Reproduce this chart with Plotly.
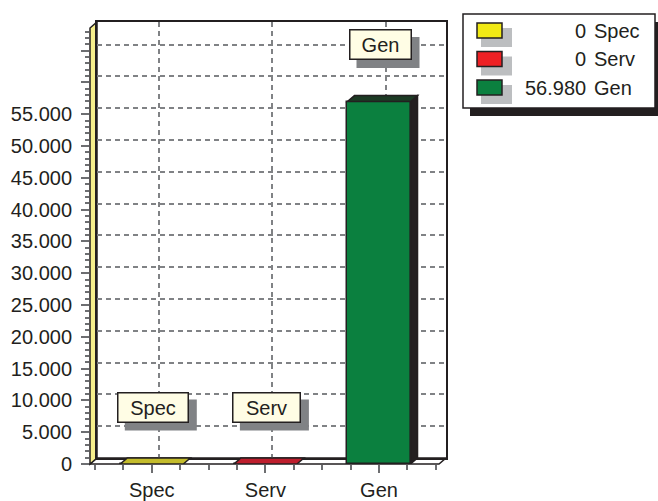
import plotly.graph_objects as go

# ---------------- data ----------------
categories = ["Spec", "Serv", "Gen"]
values = [0, 0, 56980]
y_tick_values = [0, 5000, 10000, 15000, 20000, 25000, 30000, 35000,
                 40000, 45000, 50000, 55000, 60000, 65000]
y_tick_labels = ["0", "5.000", "10.000", "15.000", "20.000", "25.000", "30.000",
                 "35.000", "40.000", "45.000", "50.000", "55.000", "", ""]

# ---------------- styles ----------------
front_colors = ["#F2EA14", "#EE2024", "#0B803F"]
top_colors = ["#C4BC2C", "#BE1E2D", "#1C3A24"]
side_colors = ["#8A8520", "#7A1418", "#231F20"]
label_box_widths = [69, 66, 60]
INK = "#231F20"
TICK = "#6D6E71"
GRID = "#808285"
FONT = "Liberation Sans, Arial, sans-serif"

W, H = 658, 501
L, R, T, B = 90, 446, 22, 464      # pixel box holding front plane + depth
DX, DY = 7, 6                       # depth offset in pixels
FRONT_W, FRONT_H = R - L - DX, B - T - DY
CAT_PX = 113.6
x_lo = -0.5 - 5 / CAT_PX
x_hi = x_lo + FRONT_W / CAT_PX
Y_PER_PX = 5000 / 31.8
y_hi = FRONT_H * Y_PER_PX
dx_d = DX / CAT_PX
dy_d = DY * Y_PER_PX
BAR_W = 0.555
LABEL_H = 28
LABEL_UP = 57


def fx(px):
    return (px - L) / (R - L)


def fy(py):
    return (B - py) / (B - T)


fig = go.Figure()

# invisible trace so the back-wall subplot (grid + frame) is drawn
fig.add_trace(go.Scatter(x=[0], y=[0], xaxis="x", yaxis="y", mode="markers",
                         marker=dict(opacity=0), hoverinfo="skip", showlegend=False))

fig.add_trace(go.Bar(
    x=list(range(len(categories))), y=values,
    xaxis="x2", yaxis="y2", width=BAR_W,
    marker=dict(color=front_colors, line=dict(color=INK, width=1.5)),
    hoverinfo="skip", showlegend=False,
))

shapes = []
# floor and left wall (beneath everything)
shapes.append(dict(
    type="path", xref="paper", yref="paper", layer="below",
    path=f"M {fx(L)},{fy(B)} L {fx(L+FRONT_W)},{fy(B)} L {fx(R)},{fy(B-DY)} L {fx(L+DX)},{fy(B-DY)} Z",
    fillcolor="white", line=dict(color=INK, width=1.5)))
shapes.append(dict(
    type="path", xref="paper", yref="paper", layer="below",
    path=f"M {fx(L)},{fy(B)} L {fx(L)},{fy(T+DY)} L {fx(L+DX)},{fy(T)} L {fx(L+DX)},{fy(B-DY)} Z",
    fillcolor="#F6EF8C", line=dict(color=INK, width=1.5)))

# 3D tops and sides of bars
for i, v in enumerate(values):
    x0, x1 = i - BAR_W / 2, i + BAR_W / 2
    if v > 0:
        shapes.append(dict(
            type="path", xref="x2", yref="y2", layer="above",
            path=f"M {x1},0 L {x1+dx_d},{dy_d} L {x1+dx_d},{v+dy_d} L {x1},{v} Z",
            fillcolor=side_colors[i], line=dict(color=INK, width=1.5)))
    shapes.append(dict(
        type="path", xref="x2", yref="y2", layer="above",
        path=f"M {x0},{v} L {x1},{v} L {x1+dx_d},{v+dy_d} L {x0+dx_d},{v+dy_d} Z",
        fillcolor=top_colors[i], line=dict(color=INK, width=1.5)))

# label shadows (pixel-sized rects anchored on each bar top)
for i, v in enumerate(values):
    half_w = (label_box_widths[i] + 3) / 2
    half_h = (LABEL_H + 3) / 2
    shapes.append(dict(
        type="rect", xref="x2", yref="y2", layer="above",
        xsizemode="pixel", ysizemode="pixel", xanchor=i, yanchor=v,
        x0=1 - half_w + 8, x1=1 + half_w + 8,
        y0=LABEL_UP - half_h - 8, y1=LABEL_UP + half_h - 8,
        fillcolor=GRID, line=dict(width=0)))

# legend box
LG_X0, LG_Y0, LG_X1, LG_Y1 = 463, 14, 655, 108
shapes.append(dict(type="rect", xref="paper", yref="paper", layer="above",
                   x0=fx(LG_X0 + 7), x1=fx(LG_X1 + 7), y0=fy(LG_Y0 + 8), y1=fy(LG_Y1 + 8),
                   fillcolor=INK, line=dict(width=0)))
shapes.append(dict(type="rect", xref="paper", yref="paper", layer="above",
                   x0=fx(LG_X0), x1=fx(LG_X1), y0=fy(LG_Y0), y1=fy(LG_Y1),
                   fillcolor="white", line=dict(color=INK, width=1.5)))

annotations = []
row_y0 = [23, 51.5, 80]
for i, name in enumerate(categories):
    sy0 = row_y0[i]
    shapes.append(dict(type="rect", xref="paper", yref="paper", layer="above",
                       x0=fx(481), x1=fx(512), y0=fy(sy0 + 5), y1=fy(sy0 + 24),
                       fillcolor="#BCBEC0", line=dict(width=0)))
    shapes.append(dict(type="rect", xref="paper", yref="paper", layer="above",
                       x0=fx(477), x1=fx(502), y0=fy(sy0), y1=fy(sy0 + 15),
                       fillcolor=front_colors[i], line=dict(color=INK, width=1.5)))
    val_txt = f"{values[i]:,}".replace(",", ".")
    annotations.append(dict(xref="paper", yref="paper", x=fx(588), y=fy(sy0 + 7.5),
                            text=val_txt, showarrow=False, xanchor="right", yanchor="middle",
                            font=dict(family=FONT, size=20, color=INK)))
    annotations.append(dict(xref="paper", yref="paper", x=fx(592), y=fy(sy0 + 7.5),
                            text=name, showarrow=False, xanchor="left", yanchor="middle",
                            font=dict(family=FONT, size=20, color=INK)))

# data labels
for i, (name, v) in enumerate(zip(categories, values)):
    annotations.append(dict(xref="x2", yref="y2", x=i, y=v, text=name, showarrow=False,
                            xanchor="center", yanchor="middle",
                            width=label_box_widths[i], height=LABEL_H,
                            borderwidth=1.5, borderpad=0, xshift=1, yshift=LABEL_UP,
                            bgcolor="#FFFDE5", bordercolor=INK,
                            font=dict(family=FONT, size=20, color=INK)))

grid_common = dict(showgrid=True, griddash="5px,4px", gridcolor=GRID, gridwidth=1.5,
                   showline=True, mirror=True, linecolor=INK, linewidth=1.5,
                   zeroline=False, showticklabels=False, ticks="", automargin=False)

fig.update_layout(
    width=W, height=H, autosize=False,
    margin=dict(l=L, r=W - R, t=T, b=H - B, pad=0, autoexpand=False),
    paper_bgcolor="white", plot_bgcolor="rgba(0,0,0,0)",
    showlegend=False, bargap=0,
    font=dict(family=FONT, size=20, color=INK),
    xaxis=dict(domain=[fx(L + DX), 1], range=[x_lo, x_hi], anchor="y",
               tickmode="array", tickvals=list(range(len(categories))), **grid_common),
    yaxis=dict(domain=[fy(B - DY), 1], range=[0, y_hi], anchor="x",
               tickmode="linear", tick0=0, dtick=5000, **grid_common),
    xaxis2=dict(domain=[0, fx(L + FRONT_W)], range=[x_lo, x_hi], anchor="y2",
                tickmode="array", tickvals=list(range(len(categories))), ticktext=categories,
                ticks="outside", ticklen=8, tickwidth=1.5, tickcolor=TICK,
                minor=dict(tickmode="linear", tick0=-0.5, dtick=0.25, ticks="outside",
                           ticklen=5, tickwidth=1.5, tickcolor=TICK, showgrid=False),
                showgrid=False, zeroline=False, showline=False, automargin=False,
                tickfont=dict(family=FONT, size=20, color=INK)),
    yaxis2=dict(domain=[0, fy(T + DY)], range=[0, y_hi], anchor="x2",
                tickmode="array", tickvals=y_tick_values, ticktext=y_tick_labels,
                ticks="outside", ticklen=8, tickwidth=1.5, tickcolor=TICK,
                ticklabelstandoff=5,
                minor=dict(tickmode="linear", tick0=0, dtick=1000, ticks="outside",
                           ticklen=4, tickwidth=1.5, tickcolor=TICK, showgrid=False),
                showgrid=False, zeroline=False, showline=False, automargin=False,
                tickfont=dict(family=FONT, size=20, color=INK)),
    shapes=shapes, annotations=annotations,
)

fig.write_html("out.html", config={"displayModeBar": False},
               post_script="document.body.style.margin='0';")
